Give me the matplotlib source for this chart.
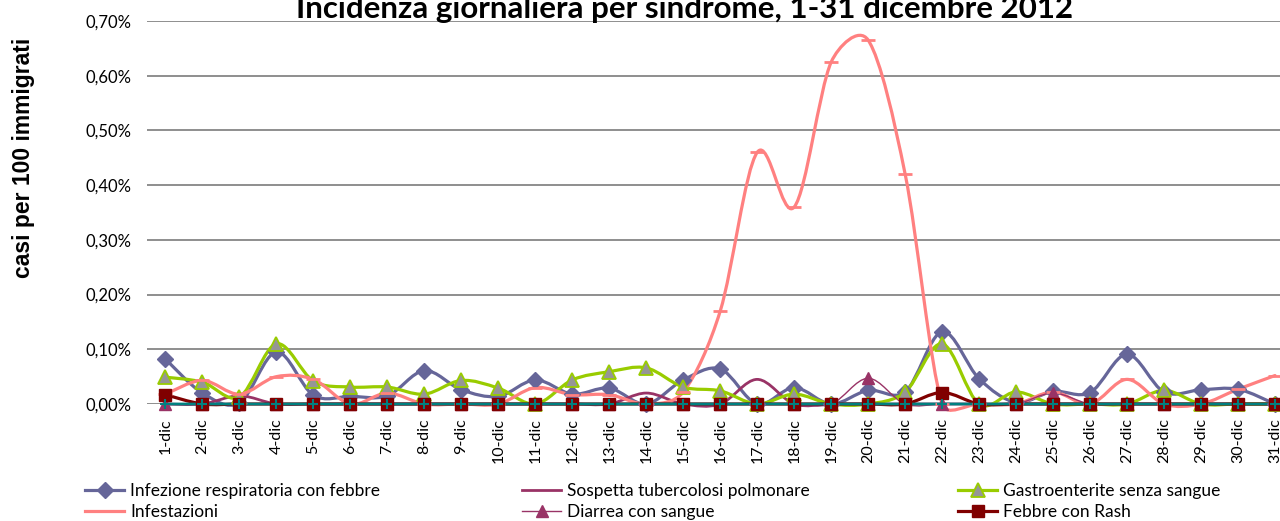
import numpy as np
import matplotlib.pyplot as plt
from matplotlib.path import Path
from matplotlib.patches import PathPatch
from matplotlib.lines import Line2D
from matplotlib.ticker import FuncFormatter

days = [f"{d}-dic" for d in range(1, 32)]

resp_febbre = [0.082, 0.020, 0.002, 0.095, 0.016, 0.014, 0.015, 0.061, 0.026, 0.014,
               0.044, 0.018, 0.029, 0.000, 0.044, 0.064, 0.000, 0.030, 0.000, 0.025,
               0.022, 0.132, 0.046, 0.003, 0.023, 0.021, 0.091, 0.022, 0.026, 0.027, 0.000]
tubercolosi = [0.0, 0.0, 0.015, 0.0, 0.0, 0.0, 0.0, 0.0, 0.0, 0.0,
               0.0, 0.0, 0.0, 0.020, 0.0, 0.0, 0.045, 0.0, 0.0, 0.0,
               0.0, 0.0, 0.0, 0.0, 0.0, 0.0, 0.0, 0.0, 0.0, 0.0, 0.0]
gastro = [0.049, 0.040, 0.013, 0.110, 0.042, 0.031, 0.031, 0.018, 0.043, 0.029,
          0.000, 0.044, 0.059, 0.066, 0.031, 0.024, 0.000, 0.018, 0.000, 0.000,
          0.022, 0.110, 0.000, 0.022, 0.000, 0.000, 0.000, 0.025, 0.000, 0.000, 0.000]
infestazioni = [0.018, 0.043, 0.018, 0.050, 0.045, 0.000, 0.020, 0.000, 0.000, 0.000,
                0.030, 0.017, 0.017, 0.000, 0.022, 0.170, 0.460, 0.360, 0.625, 0.665,
                0.420, 0.000, 0.000, 0.000, 0.022, 0.000, 0.045, 0.000, 0.000, 0.027, 0.052]
diarrea = [0.0, 0.0, 0.0, 0.0, 0.0, 0.0, 0.0, 0.0, 0.0, 0.0,
           0.0, 0.0, 0.0, 0.0, 0.0, 0.0, 0.0, 0.0, 0.0, 0.047,
           0.0, 0.0, 0.0, 0.0, 0.020, 0.0, 0.0, 0.0, 0.0, 0.0, 0.0]
rash = [0.017, 0.0, 0.0, 0.0, 0.0, 0.0, 0.0, 0.0, 0.0, 0.0,
        0.0, 0.0, 0.0, 0.0, 0.0, 0.0, 0.0, 0.0, 0.0, 0.0,
        0.0, 0.021, 0.0, 0.0, 0.0, 0.0, 0.0, 0.0, 0.0, 0.0, 0.0]
altro = [0.0] * 31

FONT = ["Lato", "DejaVu Sans"]

# pixel size of one x step and of one y unit, used to limit the smoothing
SX, SY = 37.0, 547.0


def smooth_path(x, y):
    # excel-like smoothed line: catmull-rom as cubic beziers, tangents capped
    pts = np.column_stack([x, y])
    n = len(pts)
    scale = np.array([SX, SY])
    tang = []
    for i in range(n):
        a = pts[max(i - 1, 0)]
        b = pts[min(i + 1, n - 1)]
        tang.append((b - a) / 6)
    verts = [pts[0]]
    codes = [Path.MOVETO]
    for i in range(n - 1):
        seg = np.hypot(*((pts[i + 1] - pts[i]) * scale))
        d1, d2 = tang[i], tang[i + 1]
        l1 = np.hypot(*(d1 * scale))
        l2 = np.hypot(*(d2 * scale))
        cap = 0.4 * seg
        if l1 > cap:
            d1 = d1 * cap / l1
        if l2 > cap:
            d2 = d2 * cap / l2
        verts += [pts[i] + d1, pts[i + 1] - d2, pts[i + 1]]
        codes += [Path.CURVE4] * 3
    return Path(verts, codes)


def draw_series(ax, y, color, lw, marker=None, ms=8, mfc=None, mec=None, mew=1, z=2):
    x = np.arange(len(y))
    patch = PathPatch(smooth_path(x, np.asarray(y, float)), fill=False,
                      edgecolor=color, lw=lw, zorder=z, clip_on=False,
                      capstyle="round", joinstyle="round")
    ax.add_patch(patch)
    if marker:
        ax.plot(x, y, linestyle="none", marker=marker, ms=ms,
                mfc=mfc or color, mec=mec or color, mew=mew, zorder=z + 0.5,
                clip_on=False)
    return Line2D([], [], color=color, lw=lw, marker=marker, ms=ms,
                  mfc=mfc or color, mec=mec or color, mew=mew)


fig = plt.figure(figsize=(12.8, 5.21), dpi=100)
ax = fig.add_axes([147 / 1280, 1 - 404 / 521, 1 - 147 / 1280, (404 - 21) / 521])

h_resp = draw_series(ax, resp_febbre, "#666699", 2.3, "D", ms=8.5)
h_tbc = draw_series(ax, tubercolosi, "#993366", 2.0)
h_gastro = draw_series(ax, gastro, "#99CC00", 2.3, "^", ms=10, mfc="#969696", mec="#99CC00", mew=1.3)
h_inf = draw_series(ax, infestazioni, "#FF8080", 2.3, "_", ms=10, mew=2)
h_diar = draw_series(ax, diarrea, "#993366", 1.0, "^", ms=8)
h_rash = draw_series(ax, rash, "#800000", 2.3, "s", ms=9)
draw_series(ax, altro, "#008080", 2.0, "+", ms=7, mew=1.5)

ax.set_xlim(-0.5, 30.135)
ax.set_ylim(0, 0.7)
ax.set_yticks(np.arange(0, 0.71, 0.1))
ax.yaxis.set_major_formatter(FuncFormatter(lambda v, p: f"{v:.2f}%".replace(".", ",")))
ax.set_xticks(np.arange(len(days)))
ax.set_xticklabels(days, rotation=90, fontsize=11.5, family=FONT)
for lab in ax.get_yticklabels():
    lab.set_family(FONT)
    lab.set_fontsize(12)
ax.tick_params(length=0)
ax.tick_params(axis="y", pad=11)
ax.tick_params(axis="x", pad=10)
ax.grid(axis="y", color="#868686", lw=1.3)
ax.set_axisbelow(True)
for s in ax.spines.values():
    s.set_visible(False)

fig.text(0.5348, 1 - 18 / 521, "Incidenza giornaliera per sindrome, 1-31 dicembre 2012",
         ha="center", va="baseline", fontsize=22.5, fontweight="bold", family=FONT)
fig.text(24 / 1280, 1 - 158 / 521, "casi per 100 immigrati", rotation=90,
         ha="center", va="center", fontsize=16.5, fontweight="bold",
         family=["Liberation Sans", "DejaVu Sans"])

cols = [([h_resp, h_inf], ["Infezione respiratoria con febbre", "Infestazioni"], 85 / 1280),
        ([h_tbc, h_diar], ["Sospetta tubercolosi polmonare", "Diarrea con sangue"], 522 / 1280),
        ([h_gastro, h_rash], ["Gastroenterite senza sangue", "Febbre con Rash"], 958 / 1280)]
for handles, labels, x0 in cols:
    fig.legend(handles, labels, loc="center left", bbox_to_anchor=(x0, 1 - 501.5 / 521),
               frameon=False, prop={"family": FONT, "size": 12.5}, handlelength=2.25,
               handletextpad=0.35, labelspacing=0.3, borderpad=0, borderaxespad=0)

fig.savefig("out.png", dpi=100)
